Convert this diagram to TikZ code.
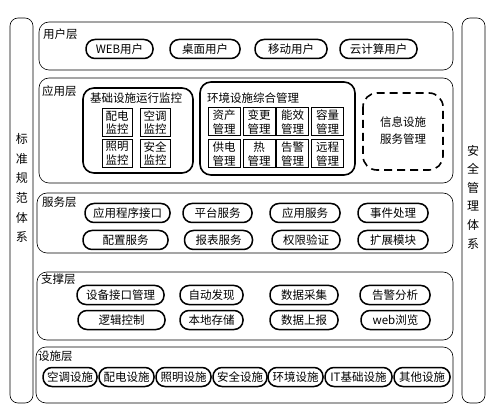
\documentclass[tikz,border=0pt]{standalone}
\usepackage{fontspec}
\setmainfont{Noto Sans CJK SC}
\begin{document}
\begin{tikzpicture}[x=1pt,y=-1pt,
    layer/.style={draw,rounded corners=10pt,line width=0.6pt},
    group/.style={draw,rounded corners=11pt,line width=1.6pt},
    pill/.style={draw,line width=1.5pt,rounded corners=9pt,minimum height=19pt,
      minimum width=#1,inner sep=1pt,font=\fontsize{11.5}{13}\selectfont},
    pill/.default=68pt,
    cell/.style={draw,line width=1pt,minimum width=30pt,minimum height=28pt,
      inner sep=0pt,align=center,font=\fontsize{11.5}{13.5}\selectfont},
    title/.style={anchor=north west,inner sep=0pt,font=\fontsize{11.5}{13}\selectfont},
    column/.style={align=center,inner sep=0pt}]
  \useasboundingbox (0,0) rectangle (492,411);
  % side columns
  \draw[layer,rounded corners=8pt] (10,18) rectangle (33,403);
  \draw[layer,rounded corners=8pt] (462,18) rectangle (485,403);
  \node[column,font=\fontsize{12}{19.6}\selectfont] (std) at (22,188) {标\\准\\规\\范\\体\\系};
  \node[column,font=\fontsize{12}{18.6}\selectfont] (sec) at (473,197) {安\\全\\管\\理\\体\\系};
  % user layer
  \draw[layer] (39,22) rectangle (453,70);
  \node[title] (userl) at (43,29) {用户层};
  \node[pill=67pt] (web) at (119.5,49) {WEB用户};
  \node[pill=70pt] (desk) at (205,49) {桌面用户};
  \node[pill=72pt] (mobile) at (291,49) {移动用户};
  \node[pill=77pt] (cloud) at (378.5,49) {云计算用户};
  % application layer
  \draw[layer] (39,78) rectangle (453,183);
  \node[title] (appl) at (42,86) {应用层};
  \draw[group] (83,88) rectangle (193,173);
  \node[title,anchor=north] (basic) at (136,93) {基础设施运行监控};
  \node[cell] (pd) at (117,122.5) {配电\\监控};
  \node[cell] (kt) at (155,122.5) {空调\\监控};
  \node[cell] (zm) at (117,153.5) {照明\\监控};
  \node[cell] (aq) at (155,153.5) {安全\\监控};
  \draw[group] (200,82) rectangle (355,175);
  \node[title] (env) at (207,93) {环境设施综合管理};
  \node[cell,minimum width=32pt] (zc) at (224,122) {资产\\管理};
  \node[cell,minimum width=32pt] (bg) at (259,122) {变更\\管理};
  \node[cell,minimum width=32pt] (nx) at (292.5,122) {能效\\管理};
  \node[cell,minimum width=32pt] (rl) at (327.5,122) {容量\\管理};
  \node[cell,minimum width=32pt] (gd) at (224,154) {供电\\管理};
  \node[cell,minimum width=32pt] (re) at (259,154) {热\\管理};
  \node[cell,minimum width=32pt] (gj) at (292.5,154) {告警\\管理};
  \node[cell,minimum width=32pt] (yc) at (327.5,154) {远程\\管理};
  \draw[group,dashed,dash pattern=on 8pt off 5pt,rounded corners=14pt] (363,93) rectangle (443,170);
  \node[align=center,font=\fontsize{11.5}{17}\selectfont] (info) at (403,131) {信息设施\\服务管理};
  % service layer
  \draw[layer] (37,193) rectangle (453,253);
  \node[title] (svcl) at (42,197) {服务层};
  \node[pill=85pt] (api) at (127.5,213) {应用程序接口};
  \node[pill=69pt] (plat) at (217.5,213) {平台服务};
  \node[pill=70pt] (apps) at (305,213) {应用服务};
  \node[pill=70pt] (event) at (393,213) {事件处理};
  \node[pill=85pt] (conf) at (125.5,240) {配置服务};
  \node[pill=68pt] (report) at (218.5,240) {报表服务};
  \node[pill=68pt] (auth) at (306,240) {权限验证};
  \node[pill=70pt] (ext) at (393,240) {扩展模块};
  % support layer
  \draw[layer] (37,272) rectangle (453,340);
  \node[title] (supl) at (41,274) {支撑层};
  \node[pill=87pt] (dev) at (120.5,295) {设备接口管理};
  \node[pill=63pt] (disc) at (211.5,295) {自动发现};
  \node[pill=68pt] (coll) at (304,295) {数据采集};
  \node[pill=70pt] (alarm) at (395,295) {告警分析};
  \node[pill=87pt] (logic) at (121.5,320) {逻辑控制};
  \node[pill=63pt] (store) at (211.5,320) {本地存储};
  \node[pill=68pt] (upl) at (304,320) {数据上报};
  \node[pill=69pt] (browse) at (395.5,320) {web浏览};
  % facility layer
  \draw[layer] (36,347) rectangle (453,403);
  \node[title] (facl) at (38,351) {设施层};
  \begin{scope}[every node/.append style={font=\fontsize{11}{13}\selectfont}]
    \node[pill=54pt] (f1) at (70,377) {空调设施};
    \node[pill=55pt] (f2) at (126.5,377) {配电设施};
    \node[pill=55pt] (f3) at (183.5,377) {照明设施};
    \node[pill=54pt] (f4) at (240,377) {安全设施};
    \node[pill=55pt] (f5) at (295.5,377) {环境设施};
    \node[pill=67pt] (f6) at (358.5,377) {IT基础设施};
    \node[pill=56pt] (f7) at (422,377) {其他设施};
  \end{scope}
\end{tikzpicture}
\end{document}
